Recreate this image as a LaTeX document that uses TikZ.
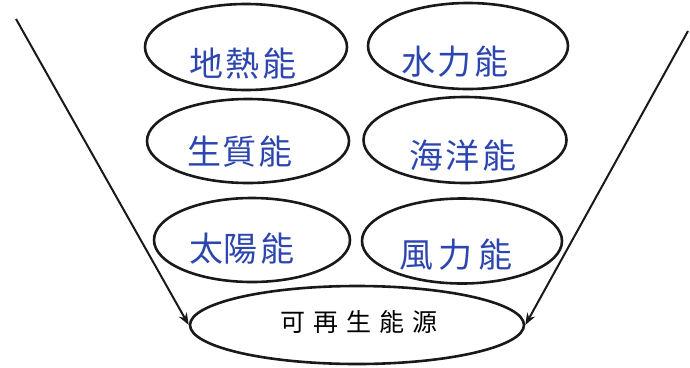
\documentclass[tikz,border=0pt]{standalone}
\usepackage{fontspec}
\newfontfamily\cjk{Noto Sans CJK TC}
\usetikzlibrary{shapes.geometric,arrows.meta}
\definecolor{inkblue}{RGB}{45,70,175}
\tikzset{
  oval/.style={draw=black!90, line width=2.6pt, ellipse, inner sep=0pt},
  hand/.style={text=inkblue, font=\cjk\fontsize{34}{36}\selectfont, inner sep=0pt},
  conn/.style={draw=black!90, line width=2pt, -{Stealth[length=12pt,width=9pt]}}
}
\begin{document}
\begin{tikzpicture}[x=1pt,y=-1pt]
\useasboundingbox (0,0) rectangle (690,367);
\node[oval, minimum width=202pt, minimum height=86pt] (geo) at (246,47) {};
\node[oval, minimum width=200pt, minimum height=86pt] (hyd) at (468,46) {};
\node[oval, minimum width=202pt, minimum height=84pt] (bio) at (248,141) {};
\node[oval, minimum width=203pt, minimum height=86pt] (oce) at (465,140) {};
\node[oval, minimum width=196pt, minimum height=84pt] (sol) at (252,240) {};
\node[oval, minimum width=200pt, minimum height=85pt] (win) at (462,241) {};
\node[oval, minimum width=334pt, minimum height=78pt] (src) at (357,325) {};
\node[hand] (tgeo) at (243,64) {地\hspace{3pt}熱\hspace{3pt}能};
\node[hand] (thyd) at (455,62) {水\hspace{2pt}力\hspace{3pt}能};
\node[hand] (tbio) at (240,152) {生\hspace{2pt}質\hspace{2pt}能};
\node[hand] (toce) at (463,156) {海\hspace{3pt}洋\hspace{3pt}能};
\node[hand] (tsol) at (242,249) {太\hspace{0pt}陽\hspace{3pt}能};
\node[hand] (twin) at (456,255) {風\hspace{6pt}力\hspace{6pt}能};
\node[font=\cjk\fontsize{25}{27}\selectfont, inner sep=0pt] (tsrc) at (359,322) {可\hspace{8pt}再\hspace{8pt}生\hspace{8pt}能\hspace{8pt}源};
\coordinate (la) at (16,19);
\coordinate (ra) at (688,31);
\draw[conn] (la) -- (src.west);
\draw[conn] (ra) -- (src.east);
\end{tikzpicture}
\end{document}
